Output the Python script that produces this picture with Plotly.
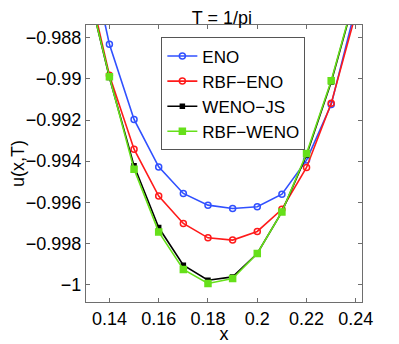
import plotly.graph_objects as go

# grid points
x = [0.13, 0.14, 0.15, 0.16, 0.17, 0.18, 0.19, 0.20, 0.21, 0.22, 0.23, 0.24]

eno = [-0.9828, -0.98832, -0.99197, -0.99428, -0.99557, -0.99614,
       -0.99630, -0.99622, -0.99561, -0.99395, -0.99125, -0.9865]
rbf_eno = [-0.98462, -0.98982, -0.99342, -0.99570, -0.99703, -0.99773,
           -0.99784, -0.99742, -0.99634, -0.99431, -0.99119, -0.98681]
weno_js = [-0.98496, -0.98993, -0.99423, -0.99723, -0.99906, -0.99979,
           -0.99963, -0.99849, -0.99647, -0.99370, -0.99015, -0.98585]
rbf_weno = [-0.98496, -0.98990, -0.99439, -0.99744, -0.99927, -0.99995,
            -0.99971, -0.99849, -0.99647, -0.99363, -0.99009, -0.98579]

x_ticks = [0.14, 0.16, 0.18, 0.20, 0.22, 0.24]
x_ticktext = ["0.14", "0.16", "0.18", "0.2", "0.22", "0.24"]
y_ticks = [-1.0, -0.998, -0.996, -0.994, -0.992, -0.99, -0.988]
y_ticktext = ["\u22121", "\u22120.998", "\u22120.996", "\u22120.994",
              "\u22120.992", "\u22120.99", "\u22120.988"]

FONT = "Liberation Sans, Arial, Helvetica, sans-serif"

series = [
    ("ENO", eno, "#3050ff", "circle-open", 6),
    ("RBF\u2212ENO", rbf_eno, "#ff1a1a", "circle-open", 6),
    ("WENO\u2212JS", weno_js, "#000000", "square", 4),
    ("RBF\u2212WENO", rbf_weno, "#66e01a", "square", 6),
]

fig = go.Figure()
for name, y, color, symbol, size in series:
    fig.add_trace(go.Scatter(
        x=x, y=y, name=name, mode="lines+markers",
        line=dict(color=color, width=1.6),
        marker=dict(symbol=symbol, size=size, color=color,
                    line=dict(color=color, width=1.5)),
    ))

axis_common = dict(
    showgrid=False, zeroline=False, showline=True, linecolor="#6e6e6e",
    linewidth=1, mirror="allticks", ticks="inside", ticklen=4,
    tickcolor="#6e6e6e", automargin=False,
    tickfont=dict(family=FONT, size=18, color="black"),
)

# the page body adds an 8px offset, so the figure is 8px smaller than the window
fig.update_layout(
    width=391, height=336,
    margin=dict(l=78, r=37, t=17, b=42, autoexpand=False),
    paper_bgcolor="white", plot_bgcolor="white",
    title=dict(text="T = 1/pi", x=0.547, xanchor="center", y=0.972,
               yanchor="middle", font=dict(family=FONT, size=18, color="black")),
    xaxis=dict(range=[0.1305, 0.2425], tickvals=x_ticks, ticktext=x_ticktext,
               title=dict(text="x", standoff=4,
                          font=dict(family=FONT, size=18, color="black")),
               **axis_common),
    yaxis=dict(range=[-1.00085, -0.98738], tickvals=y_ticks, ticktext=y_ticktext,
               title=dict(text="u(x,T)", standoff=0,
                          font=dict(family=FONT, size=18, color="black")),
               **axis_common),
    legend=dict(x=0.273, y=0.955, xanchor="left", yanchor="top",
                bgcolor="white", bordercolor="#555", borderwidth=1,
                font=dict(family=FONT, size=17, color="black"),
                tracegroupgap=0, itemwidth=30),
    showlegend=True,
)

fig.write_html("out.html")
